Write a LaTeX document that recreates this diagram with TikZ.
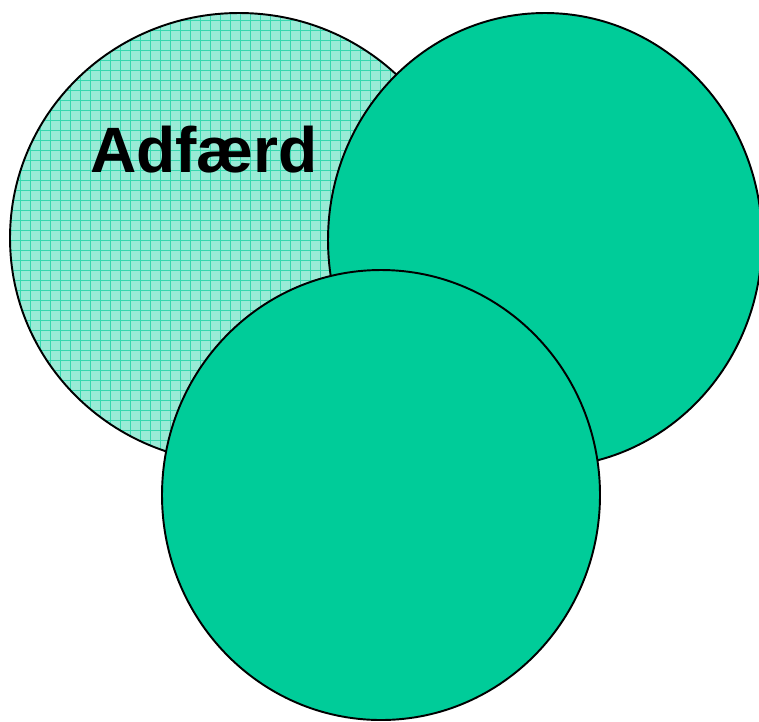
\documentclass[tikz,border=0pt]{standalone}
\usepackage{fontspec}
\setmainfont{Liberation Sans}
\definecolor{setgreen}{HTML}{00CC99}
\definecolor{setlight}{HTML}{99EBD6}
\begin{document}
\begin{tikzpicture}[
        x=0.02cm, y=-0.02cm,
        set/.style={draw=black, line width=1.1pt, fill=setgreen},
        label/.style={font=\bfseries\fontsize{36.5}{40}\selectfont, inner sep=0pt}
      ]
      \useasboundingbox (0, 0) rectangle (759, 721);

      % left set, grid pattern
      \fill[setlight] (239, 238) ellipse [x radius=229, y radius=225];
      \begin{scope}
        \clip (239, 238) ellipse [x radius=229, y radius=225];
        \foreach \g in {0, 10, ..., 480} {
          \draw[setgreen!65!setlight, line width=0.4pt] (\g, 0) -- (\g, 480);
          \draw[setgreen!65!setlight, line width=0.4pt] (0, \g) -- (480, \g);
        }
      \end{scope}
      \draw[line width=1.1pt] (239, 238) ellipse [x radius=229, y radius=225];
      \node [label] (adfaerd) at (204, 150) {Adfærd};

      % right set
      \path [set] (545, 240) ellipse [x radius=217, y radius=227];

      % bottom set
      \path [set] (381, 495) ellipse [x radius=219, y radius=225];

    \end{tikzpicture}
\end{document}
